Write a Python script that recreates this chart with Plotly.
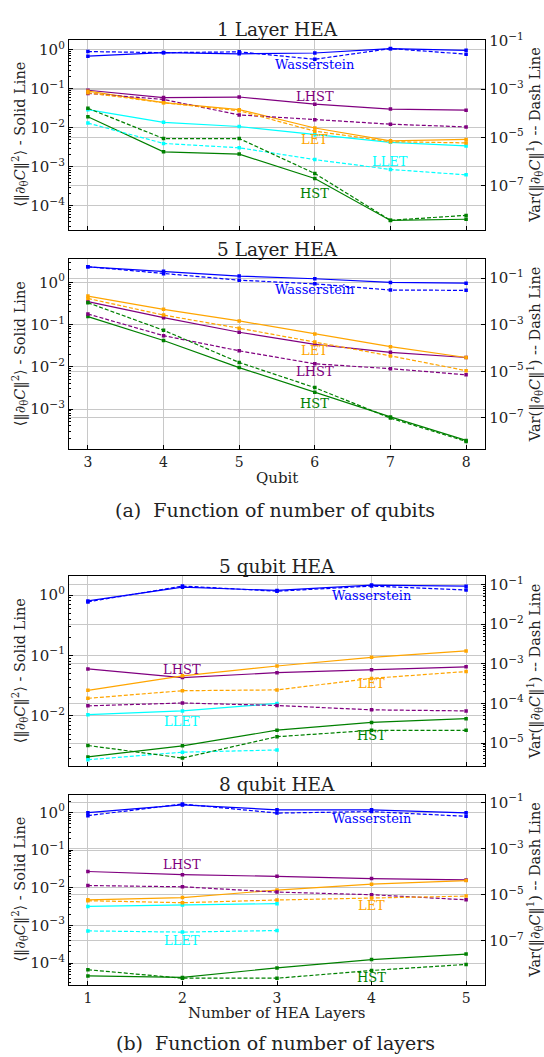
import math
import plotly.graph_objects as go

W, H = 544, 1057
FONT = "DejaVu Serif"

# ---------------- data ----------------
qubits = [3, 4, 5, 6, 7, 8]
layers = [1, 2, 3, 4, 5]

# (a) 1 Layer HEA : mean of squared grad (solid, left) / variance (dashed, right)
w_l1_mean = [0.68, 0.84, 0.78, 0.82, 1.06, 0.96]
w_l1_var = [0.0355, 0.032, 0.0345, 0.017, 0.047, 0.0277]
lhst_l1_mean = [0.091, 0.059, 0.061, 0.040, 0.030, 0.028]
lhst_l1_var = [6.6e-4, 3.7e-4, 8.5e-5, 5.3e-5, 3.5e-5, 2.7e-5]
let_l1_mean = [0.086, 0.044, 0.029, 0.0098, 0.0046, 0.005]
let_l1_var = [7.0e-4, 2.7e-4, 1.26e-4, 1.8e-5, 6.6e-6, 5.9e-6]
llet_l1_mean = [0.029, 0.0137, 0.0107, 0.0066, 0.0042, 0.0034]
llet_l1_var = [3.9e-5, 5.6e-6, 3.7e-6, 1.2e-6, 4.7e-7, 2.8e-7]
hst_l1_mean = [0.019, 0.0024, 0.0021, 5.0e-4, 4.2e-5, 4.5e-5]
hst_l1_var = [1.6e-4, 8.9e-6, 8.9e-6, 3.2e-7, 3.7e-9, 5.9e-9]

# (a) 5 Layer HEA
w_l5_mean = [2.34, 1.85, 1.41, 1.22, 1.0, 0.96]
w_l5_var = [0.31, 0.154, 0.082, 0.057, 0.031, 0.030]
let_l5_mean = [0.475, 0.23, 0.122, 0.060, 0.030, 0.0166]
let_l5_var = [0.0135, 2.6e-3, 7.1e-4, 1.8e-4, 4.6e-5, 1.07e-5]
lhst_l5_mean = [0.35, 0.146, 0.066, 0.034, 0.022, 0.0166]
lhst_l5_var = [2.9e-3, 3.4e-4, 7.6e-5, 2.1e-5, 1.3e-5, 7.1e-6]
hst_l5_mean = [0.155, 0.042, 0.0096, 0.0025, 6.5e-4, 1.8e-4]
hst_l5_var = [8.8e-3, 5.8e-4, 2.4e-5, 2.0e-6, 9.8e-8, 9.8e-9]

# (b) 5 qubit HEA
w_q5_mean = [0.80, 1.35, 1.19, 1.46, 1.40]
w_q5_var = [0.0366, 0.092, 0.068, 0.092, 0.073]
let_q5_mean = [0.0265, 0.046, 0.067, 0.093, 0.119]
let_q5_var = [1.35e-4, 2.1e-4, 2.2e-4, 4.3e-4, 6.4e-4]
lhst_q5_mean = [0.060, 0.043, 0.052, 0.058, 0.065]
lhst_q5_var = [8.7e-5, 1.03e-4, 8.9e-5, 6.9e-5, 6.5e-5]
llet_q5_mean = [0.0105, 0.0121, 0.0161]
llet_q5_var = [3.8e-6, 5.9e-6, 6.7e-6]
hst_q5_mean = [2.1e-3, 3.2e-3, 5.8e-3, 7.8e-3, 9.0e-3]
hst_q5_var = [8.7e-6, 4.2e-6, 1.45e-5, 2.1e-5, 2.1e-5]

# (b) 8 qubit HEA
w_q8_mean = [0.98, 1.58, 1.17, 1.17, 0.97]
w_q8_var = [0.0266, 0.085, 0.0346, 0.040, 0.025]
lhst_q8_mean = [0.027, 0.0223, 0.0201, 0.0175, 0.0162]
lhst_q8_var = [2.5e-5, 2.2e-5, 1.3e-5, 1.0e-5, 6.0e-6]
let_q8_mean = [0.0048, 0.0055, 0.0087, 0.0125, 0.0155]
let_q8_var = [5.5e-6, 4.5e-6, 5.9e-6, 7.2e-6, 8.7e-6]
llet_q8_mean = [3.2e-3, 3.5e-3, 3.8e-3]
llet_q8_var = [2.7e-7, 2.4e-7, 2.8e-7]
hst_q8_mean = [4.6e-5, 4.2e-5, 7.5e-5, 1.25e-4, 1.75e-4]
hst_q8_var = [5.6e-9, 2.4e-9, 2.4e-9, 5.2e-9, 9.5e-9]

colors = {"Wasserstein": "#0000ff", "LHST": "#800080", "LET": "#ffa500",
          "LLET": "#00ffff", "HST": "#008000"}

panels = [
    dict(title="1 Layer HEA", top=30, bot=222, x=qubits, xr=[2.75, 8.25], showx=False,
         series=[("Wasserstein", w_l1_mean, w_l1_var), ("LHST", lhst_l1_mean, lhst_l1_var),
                 ("LET", let_l1_mean, let_l1_var), ("LLET", llet_l1_mean, llet_l1_var),
                 ("HST", hst_l1_mean, hst_l1_var)],
         lr=[-4.62, 0.254], rr=[-8.83, -0.96], lt=[0, -1, -2, -3, -4], rt=[-1, -3, -5, -7],
         rminor=False,
         labels=[("Wasserstein", 6, -0.39), ("LHST", 6, -1.19), ("LET", 6, -2.31),
                 ("LLET", 7, -2.87), ("HST", 6, -3.68)]),
    dict(title="5 Layer HEA", top=251.7, bot=443.3, x=qubits, xr=[2.75, 8.25], showx=True,
         xtitle="Qubit",
         series=[("Wasserstein", w_l5_mean, w_l5_var), ("LHST", lhst_l5_mean, lhst_l5_var),
                 ("LET", let_l5_mean, let_l5_var), ("HST", hst_l5_mean, hst_l5_var)],
         lr=[-3.95, 0.547], rr=[-8.34, -0.19], lt=[0, -1, -2, -3], rt=[-1, -3, -5, -7],
         rminor=False,
         labels=[("Wasserstein", 6, -0.18), ("LET", 6, -1.61), ("LHST", 6, -2.11),
                 ("HST", 6, -2.88)]),
    dict(title="5 qubit HEA", top=571.7, bot=763.3, x=layers, xr=[0.8, 5.2], showx=False,
         series=[("Wasserstein", w_q5_mean, w_q5_var), ("LHST", lhst_q5_mean, lhst_q5_var),
                 ("LET", let_q5_mean, let_q5_var), ("LLET", llet_q5_mean, llet_q5_var),
                 ("HST", hst_q5_mean, hst_q5_var)],
         lr=[-2.83, 0.31], rr=[-5.58, -0.79], lt=[0, -1, -2], rt=[-1, -2, -3, -4, -5],
         rminor=True,
         labels=[("Wasserstein", 4, -0.016), ("LHST", 2, -1.228), ("LET", 4, -1.457),
                 ("LLET", 2, -2.087), ("HST", 4, -2.33)]),
    dict(title="8 qubit HEA", top=792.3, bot=984, x=layers, xr=[0.8, 5.2], showx=True,
         xtitle="Number of HEA Layers",
         series=[("Wasserstein", w_q8_mean, w_q8_var), ("LHST", lhst_q8_mean, lhst_q8_var),
                 ("LET", let_q8_mean, let_q8_var), ("LLET", llet_q8_mean, llet_q8_var),
                 ("HST", hst_q8_mean, hst_q8_var)],
         lr=[-4.57, 0.466], rr=[-8.90, -0.67], lt=[0, -1, -2, -3, -4], rt=[-1, -3, -5, -7],
         rminor=False,
         labels=[("Wasserstein", 4, -0.174), ("LHST", 2, -1.39), ("LET", 4, -2.47),
                 ("LLET", 2, -3.39), ("HST", 4, -4.39)]),
]

captions = [("(a)  Function of number of qubits", 505), ("(b)  Function of number of layers", 1043)]


def py(px):
    return 1 - px / H


XL, XR = 69, 485
XDOM = [XL / W, XR / W]
GRID = "#c8c8c8"
TXT = "#222222"


def sup_text(e):
    s = str(e).replace("-", "\u2212")
    return "10<sup>" + s + "</sup>"


def minor_vals(r):
    vals = []
    for d in range(int(r[0]) - 2, int(r[1]) + 2):
        for k in range(2, 10):
            v = k * 10 ** d
            if r[0] <= math.log10(v) <= r[1]:
                vals.append(v)
    return vals


fig = go.Figure()
layout = dict(width=W, height=H, autosize=False, margin=dict(l=0, r=0, t=0, b=0),
              paper_bgcolor="white", plot_bgcolor="white", showlegend=False,
              font=dict(family=FONT, color=TXT, size=13))
annotations = []

for i, p in enumerate(panels):
    xa = "x" if i == 0 else f"x{i+1}"
    yl = f"y{2*i+1}" if i > 0 else "y"
    yr = f"y{2*i+2}"
    xkey = "xaxis" if i == 0 else f"xaxis{i+1}"
    ylkey = "yaxis" if i == 0 else f"yaxis{2*i+1}"
    yrkey = f"yaxis{2*i+2}"
    dom = [py(p["bot"]), py(p["top"])]

    layout[xkey] = dict(domain=XDOM, anchor=yl, range=p["xr"], tickvals=p["x"],
                        showticklabels=p["showx"], ticks="inside", ticklen=4,
                        tickcolor="black", showline=True, mirror=True, linecolor="black",
                        linewidth=1.3, showgrid=True, gridcolor=GRID, gridwidth=1,
                        zeroline=False, tickfont=dict(size=14, color=TXT))
    layout[ylkey] = dict(domain=dom, anchor=xa, type="log", range=p["lr"],
                         tickvals=[10 ** e for e in p["lt"]],
                         ticktext=[sup_text(e) for e in p["lt"]],
                         ticks="inside", ticklen=4, tickcolor="black",
                         showline=True, linecolor="black", linewidth=1.3,
                         showgrid=True, gridcolor=GRID, gridwidth=1, zeroline=False,
                         tickfont=dict(size=15, color=TXT),
                         minor=dict(tickvals=minor_vals(p["lr"]), ticks="inside", ticklen=2,
                                    tickcolor="black", showgrid=False))
    ry = dict(anchor=xa, overlaying=yl, side="right", type="log", range=p["rr"],
              tickvals=[10 ** e for e in p["rt"]],
              ticktext=[sup_text(e) for e in p["rt"]],
              ticks="inside", ticklen=4, tickcolor="black",
              showline=True, linecolor="black", linewidth=1.3,
              showgrid=True, gridcolor=GRID, gridwidth=1, zeroline=False,
              tickfont=dict(size=15, color=TXT))
    if p["rminor"]:
        ry["minor"] = dict(tickvals=minor_vals(p["rr"]), ticks="inside", ticklen=2,
                           tickcolor="black", showgrid=False)
    layout[yrkey] = ry

    for name, mean, var in p["series"]:
        xs = p["x"][:len(mean)]
        c = colors[name]
        fig.add_trace(go.Scatter(x=xs, y=mean, xaxis=xa, yaxis=yl, mode="lines+markers",
                                 line=dict(color=c, width=1.2),
                                 marker=dict(symbol="square", size=3.5, color=c)))
        fig.add_trace(go.Scatter(x=xs, y=var, xaxis=xa, yaxis=yr, mode="lines+markers",
                                 line=dict(color=c, width=1.2, dash="4px,2px"),
                                 marker=dict(symbol="square", size=3.5, color=c)))

    for name, lx, ly in p["labels"]:
        annotations.append(dict(x=lx, y=ly, xref=xa, yref=yl, text=name, showarrow=False,
                                xanchor="center", yanchor="middle",
                                font=dict(family=FONT, size=13, color=colors[name])))

    annotations.append(dict(x=(XL + XR) / 2 / W, y=py(p["top"] - 10), xref="paper", yref="paper",
                            text=p["title"], showarrow=False, xanchor="center", yanchor="middle",
                            font=dict(family=FONT, size=18.5, color=TXT)))
    mid = (p["top"] + p["bot"]) / 2
    annotations.append(dict(x=20 / W, y=py(mid), xref="paper", yref="paper", textangle=-90,
                            xanchor="center", yanchor="middle",
                            text="\u27e8\u2016\u2202<sub>\u03b8</sub><i>C</i>\u2016<sup>2</sup>\u27e9 - Solid Line",
                            showarrow=False, font=dict(family=FONT, size=14.5, color=TXT)))
    annotations.append(dict(x=535 / W, y=py(mid), xref="paper", yref="paper", textangle=-90,
                            xanchor="center", yanchor="middle",
                            text="Var(\u2016\u2202<sub>\u03b8</sub><i>C</i>\u2016<sup>1</sup>) -- Dash Line",
                            showarrow=False, font=dict(family=FONT, size=14.5, color=TXT)))
    if p.get("xtitle"):
        annotations.append(dict(x=(XL + XR) / 2 / W, y=py(p["bot"] + 29), xref="paper",
                                yref="paper", text=p["xtitle"], showarrow=False,
                                xanchor="center", yanchor="middle",
                                font=dict(family=FONT, size=15, color=TXT)))

for text, yy in captions:
    annotations.append(dict(x=275 / W, y=py(yy), xref="paper", yref="paper", text=text,
                            showarrow=False, xanchor="center", yanchor="middle",
                            font=dict(family=FONT, size=19, color=TXT)))

layout["annotations"] = annotations
fig.update_layout(**layout)
fig.write_html("out.html", config={"displayModeBar": False},
               post_script="document.body.style.margin='0';document.body.style.overflow='hidden';")
